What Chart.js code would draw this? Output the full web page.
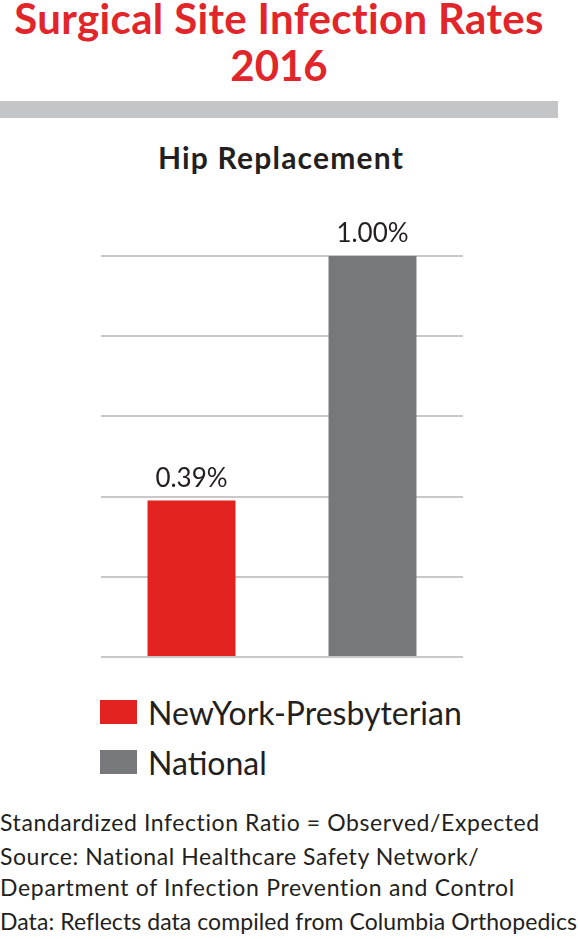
<!DOCTYPE html>
<html>
<head>
<meta charset="utf-8">
<script src="https://cdn.jsdelivr.net/npm/chart.js@4.4.1/dist/chart.umd.min.js"></script>
<style>
  body { margin: 0; background: #fff; font-family: Lato, "Open Sans", sans-serif; color: #231f20; }
  #page { position: relative; width: 578px; height: 939px; overflow: hidden; }
  .title { position: absolute; left: 0; width: 558px; text-align: center; color: #e1262b; font-weight: bold; font-size: 42px; line-height: 46px; white-space: nowrap; }
  #rule { position: absolute; left: 0; top: 101px; width: 558px; height: 17px; background: #c4c5c7; }
  #sub { position: absolute; left: 0; top: 139px; width: 562px; text-align: center; font-weight: bold; font-size: 30px; line-height: 36px; letter-spacing: 1.2px; white-space: nowrap; }
  #chartbox { position: absolute; left: 0; top: 200px; width: 578px; height: 470px; }
  #legend { position: absolute; left: 100px; top: 687px; }
  .item { height: 50px; display: flex; align-items: center; font-size: 32px; }
  .sw { width: 37px; height: 24px; margin-right: 11px; }
  .note { position: absolute; left: 0; font-size: 23px; line-height: 30px; white-space: nowrap; }
</style>
</head>
<body>
<div id="page">
  <div class="title" id="t1" style="top:-5px">Surgical Site Infection Rates</div>
  <div class="title" style="top:42px">2016</div>
  <div id="rule"></div>
  <div id="sub">Hip Replacement</div>
  <div id="chartbox"><canvas id="chartdiv" width="578" height="470"></canvas></div>
  <div id="legend"></div>
  <div class="note" id="n1" style="top:807px">Standardized Infection Ratio = Observed/Expected</div>
  <div class="note" id="n2" style="top:841px">Source: National Healthcare Safety Network/</div>
  <div class="note" id="n3" style="top:872px">Department of Infection Prevention and Control</div>
  <div class="note" id="n4" style="top:906px">Data: Reflects data compiled from Columbia Orthopedics</div>
</div>
<script>
const categories = ["NewYork-Presbyterian", "National"]
const rates = [0.39, 1.00]
const rateLabels = ["0.39%", "1.00%"]
const colors = ["#e2231f", "#77787c"]

// stretch / squeeze a text line to the width it has in the print
function fitLine(el, target){
    const r = document.createRange()
    r.selectNodeContents(el)
    const w = r.getBoundingClientRect().width
    const n = el.textContent.length
    el.style.letterSpacing = ((target - w) / (n - 1)) + 'px'
}
fitLine(document.getElementById('t1'), 530)
fitLine(document.getElementById('n1'), 540)
fitLine(document.getElementById('n2'), 479)
fitLine(document.getElementById('n3'), 515)
fitLine(document.getElementById('n4'), 577)

// value labels sitting on top of each bar
const barLabels = {
    id: 'barLabels',
    afterDatasetsDraw(chart) {
        const ctx = chart.ctx
        const meta = chart.getDatasetMeta(0)
        ctx.save()
        ctx.font = '26px Lato, "Open Sans", sans-serif'
        ctx.fillStyle = '#231f20'
        ctx.textAlign = 'center'
        ctx.textBaseline = 'alphabetic'
        meta.data.forEach(function (bar, i) {
            ctx.fillText(rateLabels[i], bar.x, bar.y - 14)
        })
        ctx.restore()
    }
}

const myChart = new Chart(document.getElementById('chartdiv').getContext('2d'), {
    type: 'bar',
    data: {
        labels: categories,
        datasets: [{
            data: rates,
            backgroundColor: colors,
            borderWidth: 0,
            categoryPercentage: 1,
            barPercentage: 0.486
        }]
    },
    options: {
        responsive: false,
        animation: {duration: 0},
        layout: {padding: {left: 101, right: 115, top: 56, bottom: 13}},
        plugins: {legend: {display: false}, tooltip: {enabled: false}},
        scales: {
            x: {display: false},
            y: {
                min: 0,
                max: 1,
                ticks: {display: false, stepSize: 0.2},
                border: {display: false},
                grid: {color: '#c8c8c8', lineWidth: 2, drawTicks: false}
            }
        }
    },
    plugins: [barLabels]
})

const legend = document.getElementById('legend')
categories.forEach(function (c, i) {
    legend.innerHTML += '<div class="item"><span class="sw" style="background:' + colors[i] + '"></span>' + c + '</div>'
})
</script>
</body>
</html>
